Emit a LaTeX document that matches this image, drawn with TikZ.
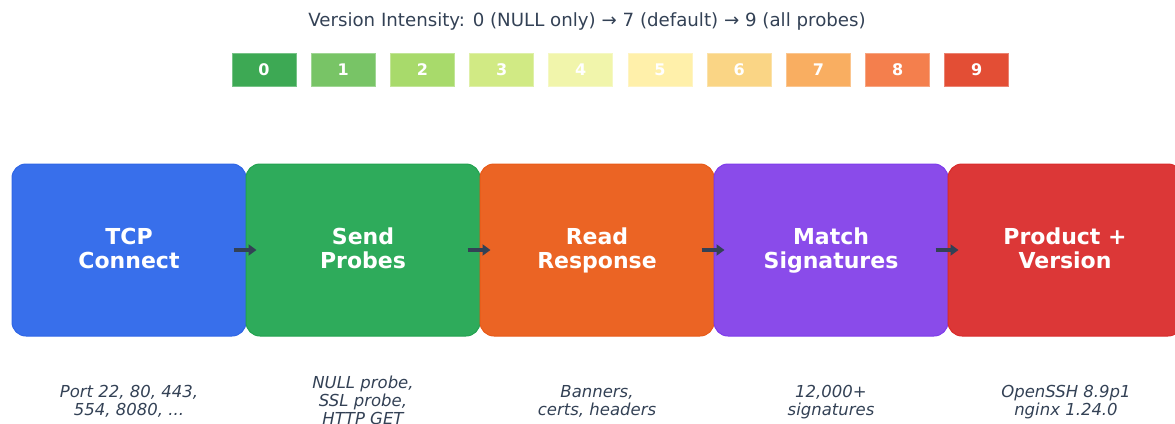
\documentclass[tikz,border=0pt]{standalone}
\usepackage{fontspec}
\setmainfont{DejaVu Sans}
\usetikzlibrary{arrows.meta}

\definecolor{ink}{HTML}{334155}
\definecolor{cBlue}{HTML}{386FEB}
\definecolor{cBlueE}{HTML}{2F66E6}
\definecolor{cGreen}{HTML}{2EAB5B}
\definecolor{cGreenE}{HTML}{22A24F}
\definecolor{cOrange}{HTML}{EB6424}
\definecolor{cOrangeE}{HTML}{E85A18}
\definecolor{cPurple}{HTML}{8A4BEA}
\definecolor{cPurpleE}{HTML}{7E3CEB}
\definecolor{cRed}{HTML}{DC3737}
\definecolor{cRedE}{HTML}{D92B2B}
% intensity scale, 0 .. 9
\definecolor{lv0}{HTML}{3DA954}
\definecolor{lv1}{HTML}{78C466}
\definecolor{lv2}{HTML}{A8DA6B}
\definecolor{lv3}{HTML}{D1EA84}
\definecolor{lv4}{HTML}{F1F5AB}
\definecolor{lv5}{HTML}{FFF0AA}
\definecolor{lv6}{HTML}{FAD585}
\definecolor{lv7}{HTML}{F9AE61}
\definecolor{lv8}{HTML}{F47F4D}
\definecolor{lv9}{HTML}{E34E35}

\tikzset{
  stage/.style={rectangle, rounded corners=14pt, minimum width=234pt,
    minimum height=172pt, inner sep=0pt, line width=1pt},
  caption/.style={align=center, text=white, inner sep=0pt,
    font=\bfseries\fontsize{22}{24}\selectfont},
  level/.style={rectangle, minimum width=64pt, minimum height=33pt,
    inner sep=0pt, line width=0.8pt, text=white,
    font=\bfseries\fontsize{16}{18}\selectfont},
  note/.style={align=center, text=ink,
    font=\itshape\fontsize{16.5}{18}\selectfont},
  flow/.style={draw=ink, line width=3.5pt,
    -{Triangle[length=8pt,width=11pt]}},
}

\begin{document}
\begin{tikzpicture}[x=1pt, y=-1pt]
  \useasboundingbox (0,0) rectangle (1175,423);
  \clip (0,0) rectangle (1175,423);

  % heading
  \node[text=ink, font=\fontsize{18.2}{22}\selectfont] (head) at (587,21)
    {Version Intensity: 0 (NULL only) → 7 (default) → 9 (all probes)};

  % intensity scale
  \foreach \i in {0,...,9} {
    \node[level, fill=lv\i, draw=lv\i!70!white] (l\i) at ({264+79.2*\i},70) {\i};
  }

  % pipeline stages
  \node[stage, fill=cBlue,   draw=cBlueE]   (tcp)   at (129,250) {};
  \node[stage, fill=cGreen,  draw=cGreenE]  (send)  at (363,250) {};
  \node[stage, fill=cOrange, draw=cOrangeE] (read)  at (597,250) {};
  \node[stage, fill=cPurple, draw=cPurpleE] (match) at (831,250) {};
  \node[stage, fill=cRed,    draw=cRedE]    (prod)  at (1065,250) {};

  % stage labels (struts keep every label on the same baselines)
  \node[caption] (ctcp)   at ([yshift=-2pt]tcp.center)   {\strut TCP\\\strut Connect};
  \node[caption] (csend)  at ([yshift=-2pt]send.center)  {\strut Send\\\strut Probes};
  \node[caption] (cread)  at ([yshift=-2pt]read.center)  {\strut Read\\\strut Response};
  \node[caption] (cmatch) at ([yshift=-2pt]match.center) {\strut Match\\\strut Signatures};
  \node[caption] (cprod)  at ([yshift=-2pt]prod.center)  {\strut Product +\\\strut Version};

  % arrows between stages
  \draw[flow] ([xshift=-13pt]tcp.east)   -- ([xshift=11pt]send.west);
  \draw[flow] ([xshift=-13pt]send.east)  -- ([xshift=11pt]read.west);
  \draw[flow] ([xshift=-13pt]read.east)  -- ([xshift=11pt]match.west);
  \draw[flow] ([xshift=-13pt]match.east) -- ([xshift=11pt]prod.west);

  % notes under each stage
  \node[note] (n1) at (129,402.4)  {\strut Port 22, 80, 443,\\\strut 554, 8080, ...};
  \node[note] (n2) at (363,402.4)  {\strut NULL probe,\\\strut SSL probe,\\\strut HTTP GET};
  \node[note] (n3) at (597,402.4)  {\strut Banners,\\\strut certs, headers};
  \node[note] (n4) at (831,402.4)  {\strut 12,000+\\\strut signatures};
  \node[note] (n5) at (1066,402.4) {\strut OpenSSH 8.9p1\\\strut nginx 1.24.0};
\end{tikzpicture}
\end{document}
